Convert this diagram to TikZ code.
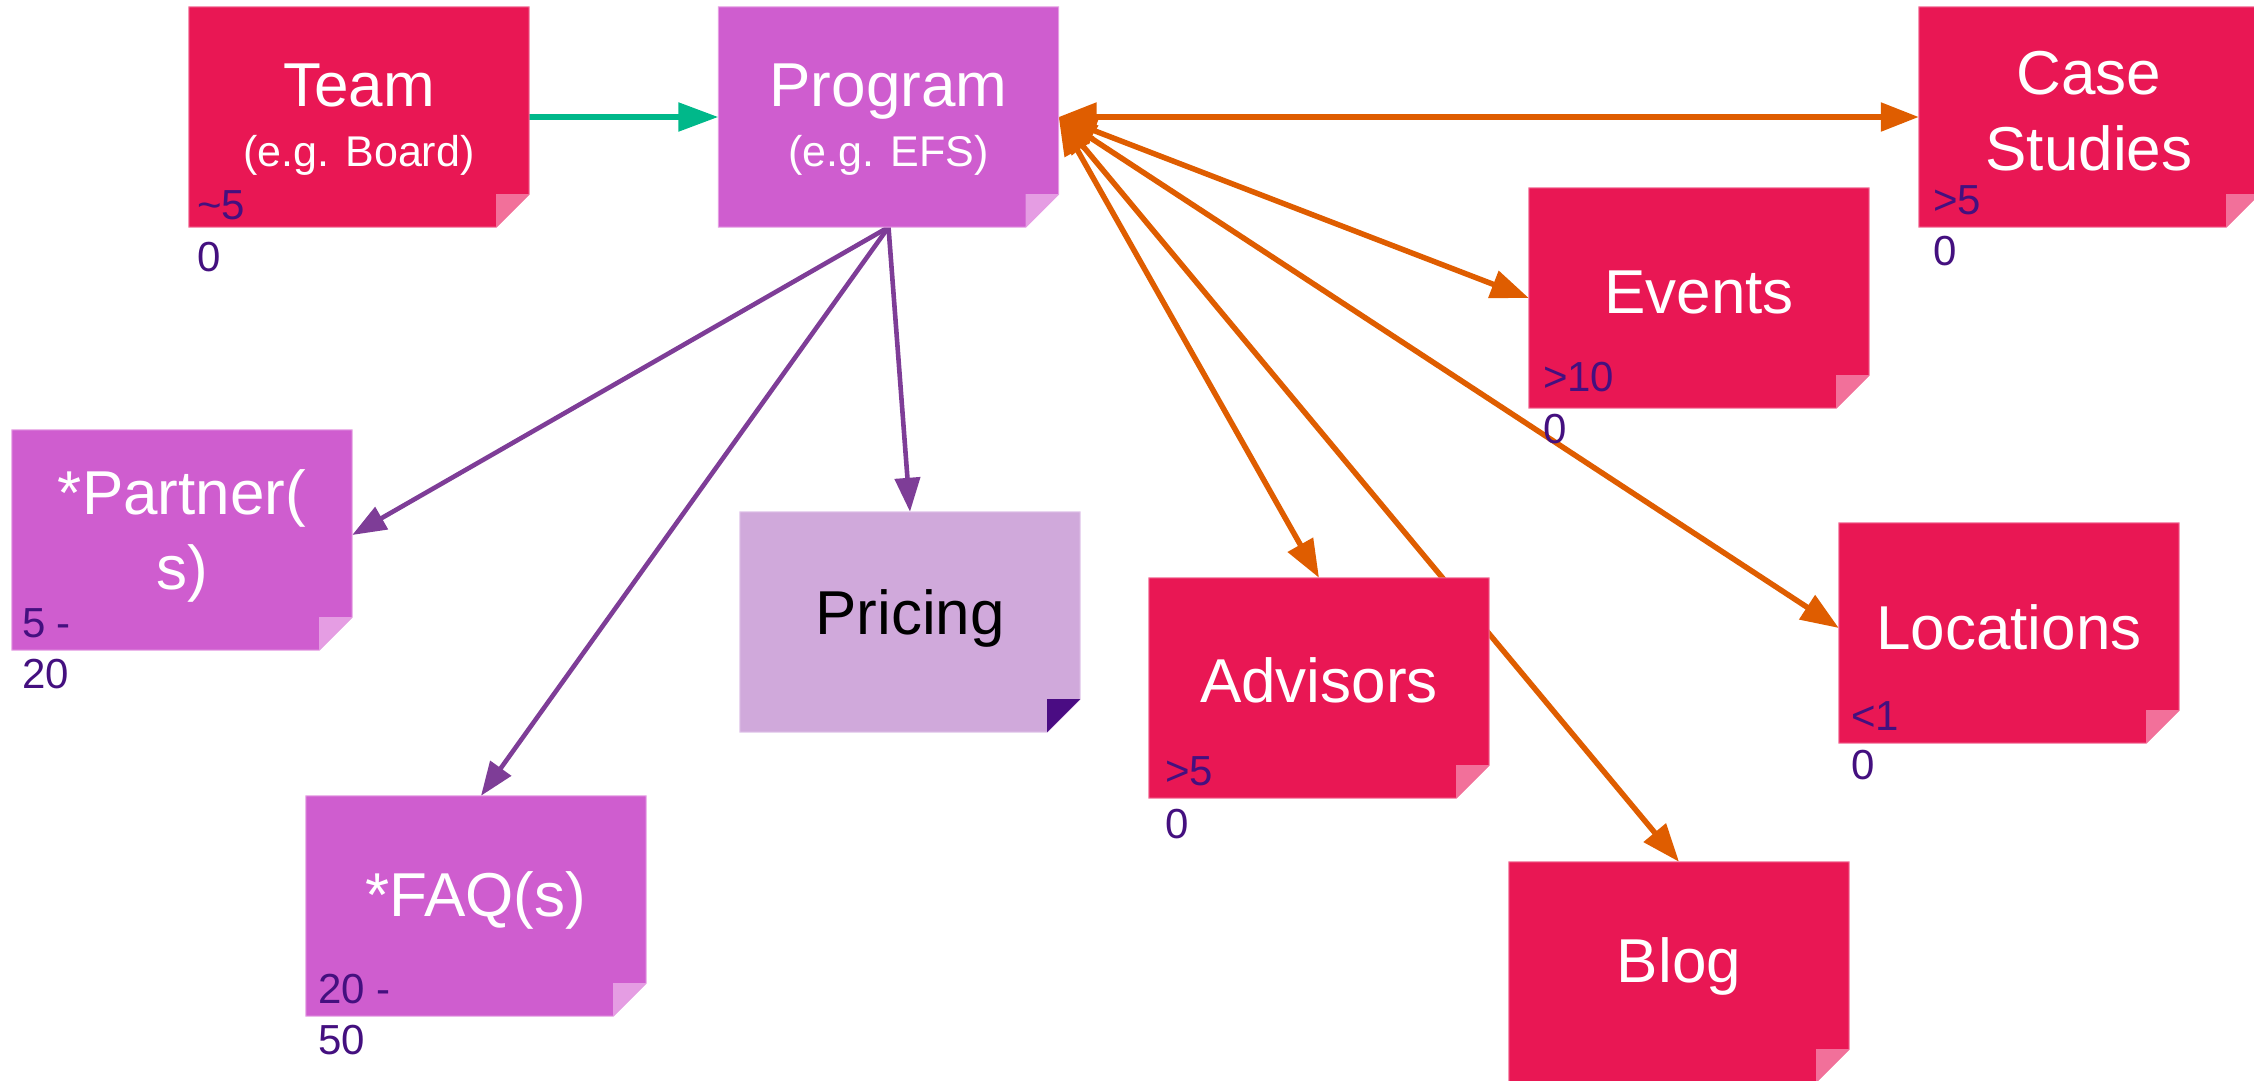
\documentclass[tikz,border=0pt]{standalone}
\usepackage{fontspec}
\setmainfont{Liberation Sans}
\usetikzlibrary{arrows.meta}
\pgfdeclarelayer{edges}
\pgfdeclarelayer{fills}
\pgfsetlayers{edges,fills,main}

\definecolor{notered}{HTML}{E91754}
\definecolor{noteredfold}{HTML}{F2709A}
\definecolor{noteorchid}{HTML}{CF5DCF}
\definecolor{noteorchidfold}{HTML}{E59DE3}
\definecolor{notepricing}{HTML}{D0A9DB}
\definecolor{notepricingfold}{HTML}{4A0C83}
\definecolor{notepricingborder}{HTML}{E2C6EA}
\definecolor{countblue}{HTML}{44107F}
\definecolor{arrowgreen}{HTML}{00B88A}
\definecolor{arrowpurple}{HTML}{7E3D97}
\definecolor{arroworange}{HTML}{DF5D00}

\newcommand{\notefill}[4]{%
  \begin{pgfonlayer}{fills}
    \filldraw[fill=#2, draw=#4, line width=1pt]
      (#1.north west) -- (#1.north east) -- ([yshift=33pt]#1.south east)
      -- ([xshift=-33pt]#1.south east) -- (#1.south west) -- cycle;
    \fill[#3] ([xshift=-33pt,yshift=33pt]#1.south east) -- ([yshift=33pt]#1.south east)
      -- ([xshift=-33pt]#1.south east) -- cycle;
  \end{pgfonlayer}}

\tikzset{
  notebox/.style={rectangle, minimum width=340pt, minimum height=220pt, inner sep=0pt, draw=none},
  maintext/.style={text=white, font=\fontsize{62}{76}\selectfont, align=center, inner sep=0pt},
  counttext/.style={text=countblue, font=\fontsize{42}{50}\selectfont, inner sep=0pt, anchor=base west},
  greenarrow/.style={draw=arrowgreen, line width=5.5pt, -{Triangle[length=40pt,width=28pt]}},
  purplearrow/.style={draw=arrowpurple, line width=4.6pt, -{Triangle[length=34pt,width=25pt]}},
  orangearrow/.style={draw=arroworange, line width=5.5pt,
    {Triangle[length=38pt,width=28pt]}-{Triangle[length=38pt,width=28pt]}},
}

\begin{document}
\begin{tikzpicture}[x=1pt, y=-1pt]
\useasboundingbox (0,0) rectangle (2254,1081);

% boxes
\node[notebox] (team) at (359,117) {};
\node[notebox] (program) at (888.5,117) {};
\node[notebox] (case) at (2089,117) {};
\node[notebox] (events) at (1699,298) {};
\node[notebox] (partner) at (182,540) {};
\node[notebox] (pricing) at (910,622) {};
\node[notebox] (faq) at (476,906) {};
\node[notebox] (advisors) at (1319,688) {};
\node[notebox] (blog) at (1679,972) {};
\node[notebox] (locations) at (2009,633) {};

\notefill{team}{notered}{noteredfold}{noteredfold}
\notefill{program}{noteorchid}{noteorchidfold}{noteorchidfold}
\notefill{case}{notered}{noteredfold}{noteredfold}
\notefill{events}{notered}{noteredfold}{noteredfold}
\notefill{partner}{noteorchid}{noteorchidfold}{noteorchidfold}
\notefill{pricing}{notepricing}{notepricingfold}{notepricingborder}
\notefill{faq}{noteorchid}{noteorchidfold}{noteorchidfold}
\notefill{advisors}{notered}{noteredfold}{noteredfold}
\notefill{blog}{notered}{noteredfold}{noteredfold}
\notefill{locations}{notered}{noteredfold}{noteredfold}

% main labels
\node[maintext, font=\fontsize{62}{60}\selectfont] (teamtext) at ([yshift=-2.5pt]team.center)
  {Team\\{\fontsize{43}{60}\selectfont (e.g. Board)}};
\node[maintext, font=\fontsize{62}{60}\selectfont] (programtext) at ([yshift=-2.5pt]program.center)
  {Program\\{\fontsize{43}{60}\selectfont (e.g. EFS)}};
\node[maintext] (casetext) at ([yshift=6pt]case.center) {Case\\Studies};
\node[maintext] (eventstext) at ([yshift=6pt]events.center) {Events};
\node[maintext, font=\fontsize{62}{75}\selectfont] (partnertext) at ([yshift=4pt]partner.center) {*Partner(\\s)};
\node[maintext, text=black] (pricingtext) at ([yshift=4pt]pricing.center) {Pricing};
\node[maintext] (faqtext) at ([yshift=6pt]faq.center) {*FAQ(s)};
\node[maintext] (advisorstext) at ([yshift=8pt]advisors.center) {Advisors};
\node[maintext] (blogtext) at ([yshift=6pt]blog.center) {Blog};
\node[maintext] (locationstext) at ([yshift=6pt]locations.center) {Locations};

% count labels
\node[counttext] (teamc1) at ([xshift=8pt,yshift=8pt]team.south west) {\textasciitilde5};
\node[counttext] (teamc2) at ([xshift=8pt,yshift=-44pt]team.south west) {0};
\node[counttext] (casec1) at ([xshift=14pt,yshift=13pt]case.south west) {>5};
\node[counttext] (casec2) at ([xshift=14pt,yshift=-38pt]case.south west) {0};
\node[counttext] (eventsc1) at ([xshift=14pt,yshift=17pt]events.south west) {>10};
\node[counttext] (eventsc2) at ([xshift=14pt,yshift=-35pt]events.south west) {0};
\node[counttext] (partnerc1) at ([xshift=10pt,yshift=13pt]partner.south west) {5 -};
\node[counttext] (partnerc2) at ([xshift=10pt,yshift=-38pt]partner.south west) {20};
\node[counttext] (faqc1) at ([xshift=12pt,yshift=13pt]faq.south west) {20 -};
\node[counttext] (faqc2) at ([xshift=12pt,yshift=-38pt]faq.south west) {50};
\node[counttext] (advisorsc1) at ([xshift=16pt,yshift=13pt]advisors.south west) {>5};
\node[counttext] (advisorsc2) at ([xshift=16pt,yshift=-40pt]advisors.south west) {0};
\node[counttext] (locationsc1) at ([xshift=12pt,yshift=13pt]locations.south west) {<1};
\node[counttext] (locationsc2) at ([xshift=12pt,yshift=-36pt]locations.south west) {0};

% connectors
\begin{pgfonlayer}{edges}
\draw[greenarrow] (team.east) -- (program.west);
\draw[purplearrow] (program.south) -- ([yshift=5pt]partner.east);
\draw[purplearrow] (program.south) -- ([xshift=5pt]faq.north);
\draw[purplearrow] (program.south) -- (pricing.north);
\draw[orangearrow] (program.east) -- (case.west);
\draw[orangearrow] (program.east) -- (events.west);
\draw[orangearrow] (program.east) -- ([yshift=5pt]locations.west);
\draw[orangearrow] (program.east) -- (blog.north);
\draw[orangearrow] (program.east) -- (advisors.north);
\end{pgfonlayer}
\end{tikzpicture}
\end{document}
